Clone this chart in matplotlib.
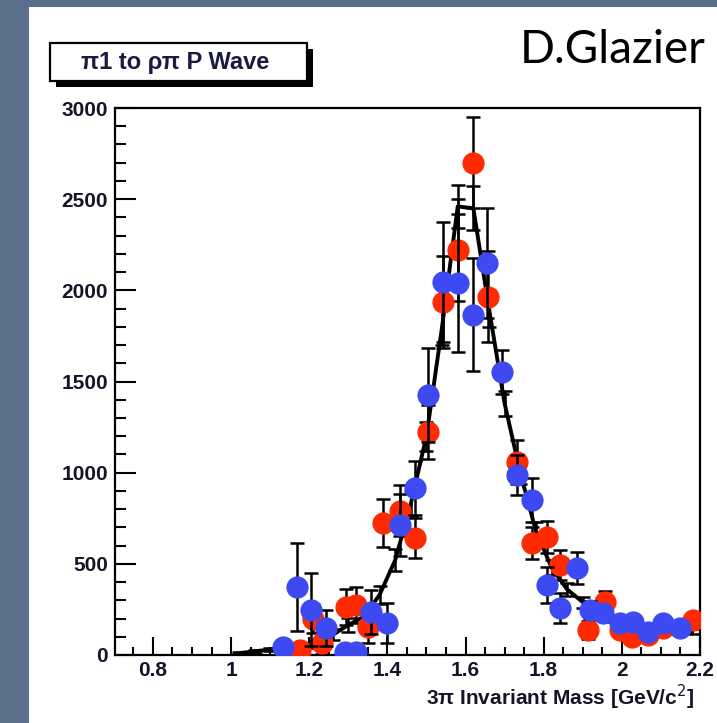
import matplotlib
matplotlib.use("Agg")
import matplotlib.pyplot as plt
from matplotlib.patches import Rectangle
from matplotlib.ticker import MultipleLocator, FixedLocator

# --- data -------------------------------------------------------------
# red series: mass [GeV], counts, error
red_x = [1.176, 1.210, 1.232, 1.293, 1.319, 1.350, 1.389, 1.432, 1.471, 1.504,
         1.542, 1.581, 1.619, 1.657, 1.732, 1.770, 1.808, 1.842, 1.913, 1.957,
         1.995, 2.026, 2.067, 2.105, 2.182]
red_y = [27, 200, 66, 263, 274, 154, 724, 790, 642, 1223,
         1936, 2222, 2699, 1964, 1059, 614, 647, 494, 137, 290,
         137, 99, 110, 150, 192]
red_err = [40, 80, 60, 100, 100, 90, 130, 140, 110, 150,
           250, 280, 250, 250, 120, 90, 90, 80, 50, 60,
           40, 40, 30, 30, 40]

# blue series
blue_x = [1.133, 1.169, 1.204, 1.243, 1.291, 1.320, 1.358, 1.399, 1.432, 1.471,
          1.504, 1.542, 1.581, 1.619, 1.655, 1.693, 1.732, 1.770, 1.808, 1.842,
          1.885, 1.918, 1.952, 1.995, 2.029, 2.067, 2.105, 2.149]
blue_y = [44, 373, 247, 148, 16, 16, 236, 176, 713, 916,
          1426, 2046, 2040, 1865, 2150, 1552, 987, 850, 384, 258,
          477, 247, 230, 176, 181, 126, 176, 148]
blue_err = [40, 240, 200, 100, 40, 40, 120, 110, 170, 150,
            260, 330, 380, 310, 300, 120, 110, 120, 100, 80,
            90, 50, 40, 40, 40, 30, 40, 40]

# black curve with its errors
line_x = [1.02, 1.06, 1.10, 1.14, 1.18, 1.22, 1.26, 1.30, 1.34, 1.38,
          1.42, 1.46, 1.50, 1.54, 1.58, 1.62, 1.66, 1.70, 1.74, 1.78,
          1.82, 1.86, 1.90, 1.94, 1.98, 2.02, 2.06, 2.10, 2.14, 2.18]
line_y = [10, 20, 30, 40, 45, 60, 110, 165, 210, 330,
          520, 830, 1200, 1800, 2460, 2450, 1900, 1380, 1000, 680,
          480, 360, 290, 240, 200, 170, 150, 140, 135, 130]
line_err = [5, 8, 10, 12, 15, 20, 30, 40, 40, 50,
            60, 70, 80, 100, 120, 120, 100, 70, 60, 50,
            40, 35, 30, 25, 20, 20, 20, 15, 15, 15]

x_major = [0.8, 1.0, 1.2, 1.4, 1.6, 1.8, 2.0, 2.2]
x_labels = ["0.8", "1", "1.2", "1.4", "1.6", "1.8", "2", "2.2"]
y_major = [0, 500, 1000, 1500, 2000, 2500, 3000]
y_labels = ["0", "500", "1000", "1500", "2000", "2500", "3000"]

W, H = 717, 723
fig = plt.figure(figsize=(W / 100, H / 100), dpi=100)
fig.patch.set_facecolor("#5a6f8b")

# white slide panel
fig.add_artist(Rectangle((29 / W, 0), 1 - 29 / W, 1 - 7 / H,
                         transform=fig.transFigure, facecolor="white",
                         edgecolor="none", zorder=0))

ax = fig.add_axes([115 / W, (H - 655) / H, (700 - 115) / W, (655 - 108) / H])
ax.set_xlim(0.703, 2.2)
ax.set_ylim(0, 3000)

ink = "#151528"
RED = "#ff2a00"
BLUE = "#3d4af2"

ax.errorbar(line_x, line_y, yerr=line_err, color="black", lw=2.8,
            elinewidth=1.8, capsize=5, capthick=1.8, zorder=2)
ax.errorbar(red_x, red_y, yerr=red_err, fmt="o", color=RED, ms=16,
            mec="none", ecolor="black", elinewidth=1.8, capsize=5,
            capthick=1.8, zorder=3)
ax.errorbar(blue_x, blue_y, yerr=blue_err, fmt="o", color=BLUE, ms=16,
            mec="none", ecolor="black", elinewidth=1.8, capsize=5,
            capthick=1.8, zorder=4)

for s in ["left", "bottom", "top", "right"]:
    ax.spines[s].set_linewidth(1.6)
    ax.spines[s].set_color("black")

ax.xaxis.set_major_locator(FixedLocator(x_major))
ax.xaxis.set_minor_locator(MultipleLocator(0.05))
ax.yaxis.set_major_locator(FixedLocator(y_major))
ax.yaxis.set_minor_locator(MultipleLocator(100))
ax.set_xticklabels(x_labels)
ax.set_yticklabels(y_labels)

ax.tick_params(axis="y", which="major", direction="in", length=15, width=1.5,
               pad=5, labelsize=15, labelcolor=ink)
ax.tick_params(axis="y", which="minor", direction="in", length=8, width=1.5)
ax.tick_params(axis="x", which="major", direction="in", length=13, width=1.5,
               pad=4, labelsize=15, labelcolor=ink)
ax.tick_params(axis="x", which="minor", direction="in", length=6, width=1.5)
for lab in ax.get_xticklabels() + ax.get_yticklabels():
    lab.set_fontfamily("Liberation Sans")
    lab.set_fontweight("bold")

fig.text(694 / W, 1 - 697 / H, "3\u03c0 Invariant Mass [GeV/c$^{2}$]",
         ha="right", va="center", fontsize=15, fontweight="bold",
         family="Liberation Sans", color=ink)

# title box with drop shadow
bx0, by0, bx1, by1 = 50, 43, 307, 81
fig.add_artist(Rectangle(((bx0 + 6) / W, 1 - (by1 + 6) / H),
                         (bx1 - bx0) / W, (by1 - by0) / H,
                         transform=fig.transFigure, facecolor="black",
                         edgecolor="none", zorder=5))
fig.add_artist(Rectangle((bx0 / W, 1 - by1 / H), (bx1 - bx0) / W,
                         (by1 - by0) / H, transform=fig.transFigure,
                         facecolor="white", edgecolor="black", lw=1.6,
                         zorder=6))
fig.text(175 / W, 1 - 62 / H, "\u03c01 to \u03c1\u03c0 P Wave",
         ha="center", va="center", fontsize=17, fontweight="bold",
         family="Liberation Sans", color="#1a1a40", zorder=7)

fig.text(520 / W, 1 - 63 / H, "D.Glazier", ha="left", va="baseline",
         fontsize=33, family="Lato", color="black")

fig.savefig("out.png", dpi=100, facecolor=fig.get_facecolor())
